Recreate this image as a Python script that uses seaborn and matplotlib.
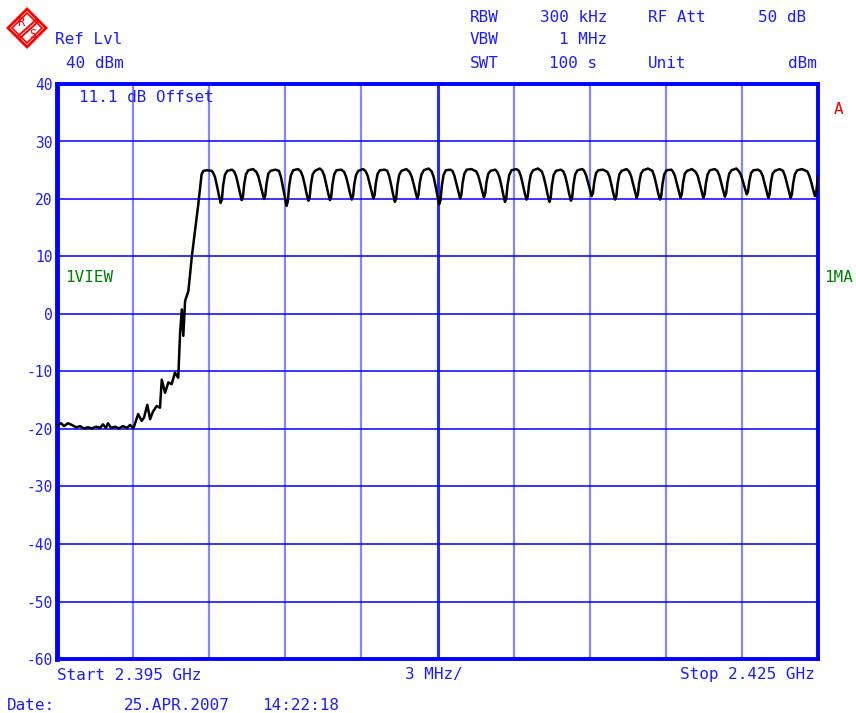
import matplotlib
matplotlib.use("Agg")
import matplotlib.pyplot as plt
import seaborn as sns
import pandas as pd
from matplotlib.patches import Polygon

# --- data ---
start_mhz = 2395.0
stop_mhz = 2425.0

# trace: frequency above start (MHz) and level (dBm)
rise_offset = [0.00, 0.16, 0.28, 0.43, 0.59, 0.75, 0.91, 1.06, 1.22, 1.38, 1.54, 1.70,
               1.81, 1.93, 2.01, 2.13, 2.29, 2.44, 2.60, 2.76, 2.88, 3.01, 3.20, 3.34,
               3.43, 3.56, 3.67, 3.78, 3.93, 4.06, 4.13, 4.26, 4.39, 4.52, 4.65, 4.78,
               4.85, 4.92, 4.98, 5.05, 5.18, 5.31, 5.44, 5.57, 5.70, 5.77, 5.91, 6.10]
rise_level = [-19.4, -19.0, -19.5, -19.0, -19.3, -19.7, -19.5, -19.9, -19.7, -19.9, -19.6, -19.8,
              -19.2, -19.8, -19.0, -19.8, -19.6, -19.9, -19.5, -19.8, -19.3, -19.9, -17.4, -18.6,
              -18.0, -15.8, -18.3, -17.0, -16.0, -16.3, -11.4, -13.7, -11.9, -12.2, -10.2, -11.1,
              -3.5, 0.8, -3.8, 2.3, 4.0, 9.8, 14.4, 19.1, 24.3, 24.9, 25.0, 24.9]

burst_offset = [
    6.15, 6.23, 6.31, 6.38, 6.45, 6.50, 6.55, 6.62, 6.71, 6.90,
    6.98, 7.06, 7.14, 7.21, 7.28, 7.33, 7.38, 7.45, 7.54, 7.73,
    7.86, 7.94, 8.02, 8.09, 8.16, 8.21, 8.26, 8.33, 8.42, 8.61,
    8.75, 8.83, 8.91, 8.98, 9.05, 9.10, 9.15, 9.22, 9.31, 9.50,
    9.61, 9.69, 9.77, 9.84, 9.91, 9.96, 10.01, 10.08, 10.17, 10.36,
    10.46, 10.54, 10.62, 10.69, 10.76, 10.81, 10.86, 10.93, 11.02, 11.21,
    11.32, 11.40, 11.48, 11.55, 11.62, 11.67, 11.72, 11.79, 11.88, 12.07,
    12.17, 12.25, 12.33, 12.40, 12.47, 12.52, 12.57, 12.64, 12.73, 12.92,
    13.02, 13.10, 13.18, 13.25, 13.32, 13.37, 13.42, 13.49, 13.58, 13.77,
    13.90, 13.98, 14.06, 14.13, 14.20, 14.25, 14.30, 14.37, 14.46, 14.65,
    14.77, 14.85, 14.93, 15.00, 15.07, 15.12, 15.17, 15.24, 15.33, 15.50,
    15.59, 15.67, 15.75, 15.82, 15.89, 15.94, 15.99, 16.06, 16.15, 16.34,
    16.53, 16.61, 16.69, 16.76, 16.83, 16.88, 16.93, 17.00, 17.09, 17.28,
    17.36, 17.44, 17.52, 17.59, 17.66, 17.71, 17.76, 17.83, 17.92, 18.11,
    18.21, 18.29, 18.37, 18.44, 18.51, 18.56, 18.61, 18.68, 18.77, 18.96,
    19.11, 19.19, 19.27, 19.34, 19.41, 19.46, 19.51, 19.58, 19.67, 19.86,
    19.96, 20.04, 20.12, 20.19, 20.26, 20.31, 20.36, 20.43, 20.52, 20.71,
    20.78, 20.86, 20.94, 21.01, 21.08, 21.13, 21.18, 21.25, 21.34, 21.53,
    21.70, 21.78, 21.86, 21.93, 22.00, 22.05, 22.10, 22.17, 22.26, 22.45,
    22.55, 22.63, 22.71, 22.78, 22.85, 22.90, 22.95, 23.02, 23.11, 23.30,
    23.47, 23.55, 23.63, 23.70, 23.77, 23.82, 23.87, 23.94, 24.03, 24.22,
    24.28, 24.36, 24.44, 24.51, 24.58, 24.63, 24.68, 24.75, 24.84, 25.03,
    25.18, 25.26, 25.34, 25.41, 25.48, 25.53, 25.58, 25.65, 25.74, 25.93,
    26.03, 26.11, 26.19, 26.26, 26.33, 26.38, 26.43, 26.50, 26.59, 26.78,
    26.89, 26.97, 27.05, 27.12, 27.19, 27.24, 27.29, 27.36, 27.45, 27.64,
    27.74, 27.82, 27.90, 27.97, 28.04, 28.09, 28.14, 28.21, 28.30, 28.49,
    28.62, 28.70, 28.78, 28.85, 28.92, 28.97, 29.02, 29.09, 29.18, 29.37,
    29.58, 29.66, 29.74, 29.81, 29.88, 29.93, 30.00,
]
burst_level = [
    24.6, 23.8, 22.2, 20.7, 19.3, 19.9, 22.4, 24.2, 24.9, 25.1,
    24.8, 24.0, 22.5, 21.1, 19.8, 20.4, 22.6, 24.3, 25.0, 25.2,
    24.7, 23.9, 22.5, 21.2, 20.0, 20.6, 22.7, 24.4, 24.9, 25.1,
    24.9, 23.8, 22.0, 20.4, 18.8, 19.6, 22.2, 24.1, 25.0, 25.2,
    24.8, 23.9, 22.4, 20.9, 19.7, 20.3, 22.5, 24.3, 24.9, 25.3,
    24.9, 24.0, 22.4, 21.0, 19.8, 20.4, 22.6, 24.3, 25.0, 25.1,
    24.7, 23.8, 22.4, 21.0, 19.9, 20.5, 22.6, 24.2, 24.9, 25.2,
    24.8, 24.0, 22.6, 21.3, 20.1, 20.7, 22.8, 24.4, 25.0, 25.1,
    24.9, 23.9, 22.3, 20.8, 19.5, 20.1, 22.4, 24.2, 24.9, 25.2,
    24.7, 23.9, 22.6, 21.3, 20.1, 20.7, 22.8, 24.3, 25.0, 25.3,
    24.8, 23.8, 22.1, 20.5, 19.1, 19.8, 22.3, 24.2, 25.0, 25.1,
    24.9, 24.0, 22.6, 21.3, 20.1, 20.7, 22.8, 24.4, 25.1, 25.2,
    24.8, 24.0, 22.7, 21.4, 20.3, 20.9, 22.9, 24.4, 24.9, 25.1,
    24.7, 23.8, 22.3, 20.8, 19.5, 20.1, 22.4, 24.2, 25.0, 25.2,
    24.9, 23.9, 22.4, 21.0, 19.9, 20.5, 22.6, 24.3, 25.0, 25.3,
    24.8, 23.8, 22.3, 20.8, 19.5, 20.1, 22.4, 24.2, 24.9, 25.1,
    24.8, 23.9, 22.4, 20.9, 19.7, 20.3, 22.5, 24.3, 25.0, 25.2,
    24.9, 24.1, 22.8, 21.6, 20.5, 21.1, 23.0, 24.5, 25.0, 25.1,
    24.7, 23.9, 22.4, 21.0, 19.9, 20.5, 22.6, 24.3, 24.9, 25.2,
    24.8, 24.0, 22.6, 21.3, 20.2, 20.8, 22.8, 24.4, 25.0, 25.3,
    24.9, 23.9, 22.4, 21.0, 19.9, 20.5, 22.6, 24.3, 25.0, 25.1,
    24.8, 24.0, 22.6, 21.3, 20.2, 20.8, 22.8, 24.4, 24.9, 25.2,
    24.7, 24.0, 22.6, 21.3, 20.2, 20.8, 22.7, 24.3, 25.0, 25.2,
    24.9, 24.1, 22.7, 21.5, 20.4, 21.0, 22.9, 24.4, 25.0, 25.3,
    24.8, 24.1, 22.9, 21.8, 20.8, 21.3, 23.0, 24.5, 25.0, 25.1,
    24.8, 24.0, 22.6, 21.3, 20.2, 20.8, 22.8, 24.4, 24.9, 25.2,
    24.9, 24.0, 22.6, 21.3, 20.2, 20.8, 22.7, 24.3, 25.0, 25.2,
    24.8, 24.0, 22.8, 21.6, 20.5, 21.1, 24.0,
]

level_ticks = [40, 30, 20, 10, 0, -10, -20, -30, -40, -50, -60]
level_labels = ["40", "30", "20", "10", "0", "-10", "-20", "-30", "-40", "-50", "-60"]
freq_grid = [3, 6, 9, 12, 15, 18, 21, 24, 27]

df = pd.DataFrame({
    "freq": [start_mhz + f for f in rise_offset + burst_offset],
    "level": rise_level + burst_level,
})

# --- styling ---
sns.set_style("white")
plt.rcParams["font.family"] = ["DejaVu Sans Mono", "DejaVu Sans"]
BLUE = "#1c1cff"
GREEN = "#008000"
RED = "#ff0000"
FS = 11.5

W, H = 856, 713
fig = plt.figure(figsize=(W / 100, H / 100), dpi=100)
ax = fig.add_axes([57 / W, 1 - 659 / H, 761 / W, 575 / H])


def ftext(x, y, s, color=BLUE, ha="left", size=FS):
    # place text with pixel coords measured from the top-left
    fig.text(x / W, 1 - y / H, s, color=color, ha=ha, va="center", fontsize=size)


# grid
for f in freq_grid:
    if f == 15:
        ax.axvline(start_mhz + f, color="#2a2aff", lw=2.2, zorder=1)
    else:
        ax.axvline(start_mhz + f, color="#8585ff", lw=1.6, zorder=1)
for lv in level_ticks[1:-1]:
    ax.axhline(lv, color="#0000ff", lw=1.1, zorder=1)

sns.lineplot(data=df, x="freq", y="level", ax=ax, color="black", lw=1.8,
             sort=False, zorder=3)

ax.set_xlim(start_mhz, stop_mhz)
ax.set_ylim(-60, 40)
ax.set_xticks([])
ax.set_yticks(level_ticks)
ax.set_yticklabels(level_labels, color=BLUE, fontsize=10.5)
ax.tick_params(axis="y", length=0, pad=3)
ax.set_xlabel("")
ax.set_ylabel("")
for side, lw in [("left", 3.5), ("top", 2.8), ("right", 2.8), ("bottom", 2.8)]:
    ax.spines[side].set_visible(True)
    ax.spines[side].set_color("#0000ff")
    ax.spines[side].set_linewidth(lw)

# header texts
ftext(55, 40, "Ref Lvl")
ftext(66, 63, "40 dBm")
ftext(79, 98, "11.1 dB Offset")

ftext(470, 17, "RBW")
ftext(607, 17, "300 kHz", ha="right")
ftext(648, 17, "RF Att")
ftext(806, 17, "50 dB", ha="right")
ftext(470, 40, "VBW")
ftext(607, 40, "1 MHz", ha="right")
ftext(470, 63, "SWT")
ftext(597, 63, "100 s", ha="right")
ftext(648, 63, "Unit")
ftext(817, 63, "dBm", ha="right")

ftext(834, 110, "A", color=RED)
ftext(65, 277, "1VIEW", color=GREEN)
ftext(824, 277, "1MA", color=GREEN)

# footer texts
ftext(57, 675, "Start 2.395 GHz")
ftext(405, 675, "3 MHz/")
ftext(815, 675, "Stop 2.425 GHz", ha="right")
ftext(7, 706, "Date:")
ftext(124, 706, "25.APR.2007")
ftext(262, 706, "14:22:18")


# R&S logo
def px(pts):
    return [(x / W, 1 - y / H) for x, y in pts]


fig.patches.append(Polygon(px([(27, 9), (46, 28), (27, 47), (8, 28)]), closed=True,
                           fill=False, edgecolor=RED, lw=2.0, transform=fig.transFigure))
fig.patches.append(Polygon(px([(27, 13), (42, 28), (27, 43), (12, 28)]), closed=True,
                           fill=False, edgecolor=RED, lw=1.2, transform=fig.transFigure))
fig.lines.append(plt.Line2D([17 / W, 37 / W], [1 - 37 / H, 1 - 19 / H], color=RED, lw=1.4,
                            transform=fig.transFigure))
fig.lines.append(plt.Line2D([19 / W, 39 / W], [1 - 39 / H, 1 - 21 / H], color=RED, lw=1.4,
                            transform=fig.transFigure))
ftext(21, 23, "R", color=RED, ha="center", size=8.5)
ftext(33, 34, "S", color=RED, ha="center", size=8.5)

fig.savefig("out.png", dpi=100)
